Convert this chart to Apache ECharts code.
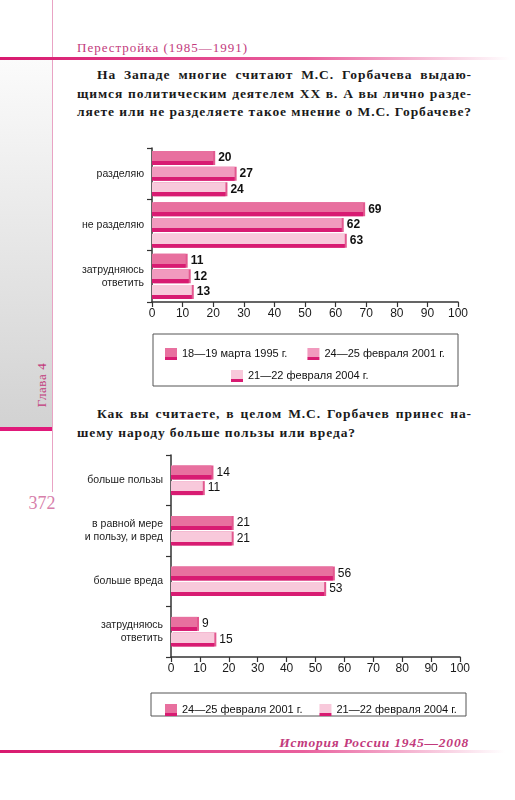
<!DOCTYPE html>
<html>
<head>
<meta charset="utf-8">
<script src="https://cdn.jsdelivr.net/npm/echarts@6/dist/echarts.min.js"></script>
<style>
  body { margin: 0; background: #fff; }
  #page { position: relative; width: 515px; height: 800px; overflow: hidden; background: #fff; }
  .abs { position: absolute; }
  .band { left: 0; top: 60px; width: 52px; height: 368px; background: linear-gradient(#fbfbfb, #d2d2d2); }
  .vline { left: 52px; top: 0; width: 1px; height: 492px; background: #e9a3c4; }
  .hline { height: 3px; background: linear-gradient(to right, #d8196f, #e9609d 60%, rgba(240,150,190,0) 100%); }
  .serif { font-family: "Liberation Serif", "DejaVu Serif", serif; }
  .pink { color: #c23a7c; }
  .q { left: 77px; width: 395px; font-family: "Liberation Serif", "DejaVu Serif", serif; font-weight: bold;
       font-size: 13.5px; letter-spacing: 0.9px; line-height: 18.5px; color: #1a1a1a; }
  .q div { text-align: justify; text-align-last: justify; white-space: nowrap; }
  .q div.last { text-align-last: left; }
  .chart { position: absolute; left: 0; width: 515px; }
</style>
</head>
<body>
<div id="page">
  <div class="abs band"></div>
  <div class="abs" style="left:0;top:427px;width:53px;height:4px;background:#e0197a;"></div>
  <div class="abs vline"></div>
  <div class="abs hline" style="left:0;top:57px;width:510px;"></div>
  <div class="abs hline" style="left:0;top:750px;width:505px;"></div>

  <div class="abs serif pink" style="left:77px;top:40px;font-size:13px;letter-spacing:1px;">Перестройка (1985—1991)</div>
  <div class="abs serif pink" style="left:16px;top:377px;width:52px;text-align:center;font-size:13px;letter-spacing:0.6px;transform:rotate(-90deg);">Глава 4</div>
  <div class="abs serif" style="left:22px;top:493px;width:40px;text-align:center;font-size:18px;color:#d77fab;">372</div>
  <div class="abs serif pink" style="left:263px;top:735px;width:206px;text-align:right;font-size:13.5px;font-style:italic;font-weight:bold;letter-spacing:0.8px;">История России 1945—2008</div>

  <div class="abs q" style="top:66px;">
    <div style="padding-left:20px;">На Западе многие считают М.С. Горбачева выдаю-</div>
    <div>щимся политическим деятелем XX в. А вы лично разде-</div>
    <div>ляете или не разделяете такое мнение о М.С. Горбачеве?</div>
  </div>
  <div class="abs q" style="top:405px;">
    <div style="padding-left:20px;">Как вы считаете, в целом М.С. Горбачев принес на-</div>
    <div class="last">шему народу больше пользы или вреда?</div>
  </div>

  <div id="chart1" class="chart" style="top:130px;height:265px;"></div>
  <div id="chart2" class="chart" style="top:440px;height:290px;"></div>
</div>
<script>
// Опрос 1: разделяете ли мнение о Горбачеве
const categories1 = ["разделяю", "не разделяю", "затрудняюсь\nответить"];
const seriesNames1 = ["18—19 марта 1995 г.", "24—25 февраля 2001 г.", "21—22 февраля 2004 г."];
const values1995 = [20, 69, 11];
const values2001a = [27, 62, 12];
const values2004a = [24, 63, 13];

// Опрос 2: польза или вред
const categories2 = ["больше пользы", "в равной мере\nи пользу, и вред", "больше вреда", "затрудняюсь\nответить"];
const seriesNames2 = ["24—25 февраля 2001 г.", "21—22 февраля 2004 г."];
const values2001b = [14, 21, 56, 9];
const values2004b = [11, 21, 53, 15];

const xTicks = { min: 0, max: 100, interval: 10 };

const darkEdge = "#d81b72";
function face(c) {
	return new echarts.graphic.LinearGradient(0, 0, 0, 1, [
		{ offset: 0, color: c },
		{ offset: 0.72, color: c },
		{ offset: 0.72, color: darkEdge },
		{ offset: 1, color: darkEdge },
	]);
}

function makeSeries(name, data, color, bold) {
	return {
		name: name,
		type: "bar",
		data: data,
		barWidth: 14,
		barGap: "12%",
		itemStyle: {
			color: face(color),
			shadowColor: "#e2588f",
			shadowOffsetX: 2,
			shadowBlur: 0,
		},
		label: {
			show: true,
			position: "right",
			distance: 5,
			color: "#111",
			fontSize: 12,
			fontWeight: bold ? "bold" : "normal",
			fontFamily: "Liberation Sans, Arial, sans-serif",
		},
	};
}

function axes(cats) {
	return {
		xAxis: {
			type: "value",
			min: xTicks.min,
			max: xTicks.max,
			interval: xTicks.interval,
			splitLine: { show: false },
			axisLine: { show: true, lineStyle: { color: "#333", width: 1.5 } },
			axisTick: { show: true, length: 5, lineStyle: { color: "#333", width: 1.2 } },
			axisLabel: { color: "#1a1a1a", fontSize: 12, margin: 6, fontFamily: "Liberation Sans, Arial, sans-serif" },
		},
		yAxis: {
			type: "category",
			inverse: true,
			data: cats,
			axisLine: { show: true, lineStyle: { color: "#333", width: 1.5 } },
			axisTick: { show: true, length: 5, lineStyle: { color: "#333", width: 1.2 } },
			axisLabel: { color: "#222", fontSize: 10.5, lineHeight: 13, margin: 8, align: "right", fontFamily: "Liberation Sans, Arial, sans-serif" },
		},
	};
}

const legendText = { color: "#111", fontSize: 11, fontFamily: "Liberation Sans, Arial, sans-serif" };

const chart1 = echarts.init(document.getElementById("chart1"));
chart1.setOption(Object.assign({
	animation: false,
	color: ["#e8709f", "#f19abe", "#f8c9db"],
	grid: { left: 152, top: 18, width: 306, height: 154 },
	legend: [
		{ data: [seriesNames1[0], seriesNames1[1]], left: 160, top: 213, itemWidth: 12, itemHeight: 12, itemGap: 20, icon: "rect", textStyle: legendText },
		{ data: [seriesNames1[2]], left: 226, top: 235, itemWidth: 12, itemHeight: 12, icon: "rect", textStyle: legendText },
	],
	graphic: [
		{ type: "rect", shape: { x: 153, y: 204, width: 305, height: 52 }, style: { fill: "none", stroke: "#555", lineWidth: 1 } },
	],
	series: [
		makeSeries(seriesNames1[0], values1995, "#e8709f", true),
		makeSeries(seriesNames1[1], values2001a, "#f19abe", true),
		makeSeries(seriesNames1[2], values2004a, "#f8c9db", true),
	],
}, axes(categories1)));

const chart2 = echarts.init(document.getElementById("chart2"));
chart2.setOption(Object.assign({
	animation: false,
	color: ["#e8709f", "#f8c9db"],
	grid: { left: 171, top: 15, width: 289, height: 202 },
	legend: [
		{ data: seriesNames2, left: 160, top: 259, itemWidth: 12, itemHeight: 12, itemGap: 17, icon: "rect", textStyle: legendText },
	],
	graphic: [
		{ type: "rect", shape: { x: 151, y: 253, width: 315, height: 23 }, style: { fill: "none", stroke: "#555", lineWidth: 1 } },
	],
	series: [
		makeSeries(seriesNames2[0], values2001b, "#e8709f", false),
		makeSeries(seriesNames2[1], values2004b, "#f8c9db", false),
	],
}, axes(categories2)));
</script>
</body>
</html>
